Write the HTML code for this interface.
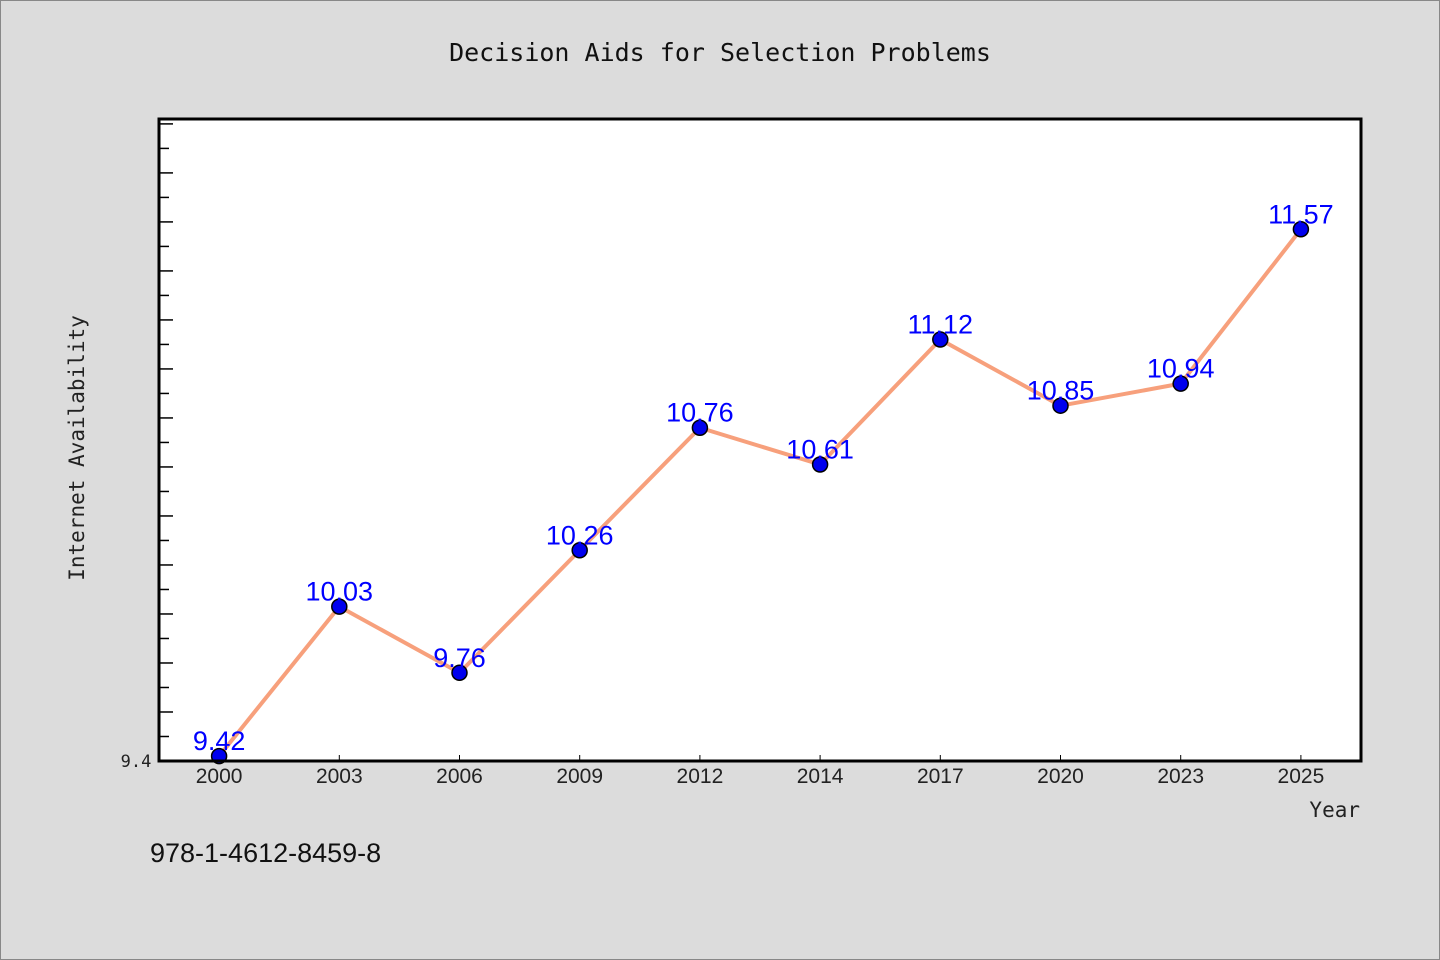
<!DOCTYPE html>
<html><head><meta charset="utf-8"><style>
html,body{margin:0;padding:0;background:#dcdcdc;}
svg{display:block;}
</style></head><body>
<svg width="1440" height="960" xmlns="http://www.w3.org/2000/svg">
<rect x="0.5" y="0.5" width="1439" height="959" fill="#dcdcdc" stroke="#888"/>
<text x="720" y="61" text-anchor="middle" font-family="'DejaVu Sans Mono','WenQuanYi Zen Hei',monospace" font-size="25" fill="#111">Decision Aids for Selection Problems</text>
<rect x="159" y="119" width="1202" height="642" fill="#fff"/>
<g id="ticks"></g>
<path id="line" fill="none" stroke="#f7a07c" stroke-width="4" stroke-linejoin="round"/>
<g id="pts"></g>
<rect x="159" y="119" width="1202" height="642" fill="none" stroke="#000" stroke-width="3"/>
<text x="136" y="767" text-anchor="middle" font-family="'DejaVu Sans Mono',monospace" font-size="17" fill="#222">9.4</text>
<text x="84" y="448" transform="rotate(-90 84 448)" text-anchor="middle" font-family="'DejaVu Sans Mono',monospace" font-size="21" fill="#222">Internet Availability</text>
<text x="1360" y="817" text-anchor="end" font-family="'DejaVu Sans Mono',monospace" font-size="21" fill="#222">Year</text>
<text x="150" y="862" font-family="'WenQuanYi Zen Hei','Liberation Sans',sans-serif" font-size="27" fill="#111">978-1-4612-8459-8</text>
</svg>
<script>
const categories=["2000","2003","2006","2009","2012","2014","2017","2020","2023","2025"];
const values=[9.42,10.03,9.76,10.26,10.76,10.61,11.12,10.85,10.94,11.57];
const valueLabels=["9.42","10.03","9.76","10.26","10.76","10.61","11.12","10.85","10.94","11.57"];
const yMin=9.4, yMax=12.02;
const L=159,R=1361,T=119,B=761;
const NS="http://www.w3.org/2000/svg";
const bw=(R-L)/categories.length;
const xs=i=>L+bw*(i+0.5);
const ys=v=>B-(v-yMin)/(yMax-yMin)*(B-T);
const tg=document.getElementById('ticks');
for(let k=1;;k++){const v=yMin+k*0.1;if(v>yMax-0.01)break;const y=ys(v);
const l=document.createElementNS(NS,'line');


l.setAttribute('x1',L);l.setAttribute('x2',L+(k%2==0?14:10));l.setAttribute('y1',y);l.setAttribute('y2',y);l.setAttribute('stroke','#000');l.setAttribute('stroke-width','1.5');tg.appendChild(l);}
categories.forEach((c,i)=>{
const l=document.createElementNS(NS,'line');


l.setAttribute('x1',xs(i));l.setAttribute('x2',xs(i));l.setAttribute('y1',B);l.setAttribute('y2',B-6);l.setAttribute('stroke','#000');tg.appendChild(l);
const t=document.createElementNS(NS,'text');


t.setAttribute('x',xs(i));t.setAttribute('y',783);t.setAttribute('text-anchor','middle');t.setAttribute('font-family',"'WenQuanYi Zen Hei','Liberation Sans',sans-serif");t.setAttribute('font-size','21');t.setAttribute('fill','#222');t.textContent=c;tg.appendChild(t);});
document.getElementById('line').setAttribute('d',values.map((v,i)=>(i?'L':'M')+xs(i)+' '+ys(v)).join(' '));
const pg=document.getElementById('pts');
values.forEach((v,i)=>{
const c=document.createElementNS(NS,'circle');


c.setAttribute('cx',xs(i));c.setAttribute('cy',ys(v));c.setAttribute('r','7.5');c.setAttribute('fill','#0000ee');c.setAttribute('stroke','#000');c.setAttribute('stroke-width','1.5');pg.appendChild(c);
const t=document.createElementNS(NS,'text');


t.setAttribute('x',xs(i));t.setAttribute('y',ys(v)-6);t.setAttribute('text-anchor','middle');t.setAttribute('font-family',"'WenQuanYi Zen Hei','Liberation Sans',sans-serif");t.setAttribute('font-size','27');t.setAttribute('fill','#0000ff');t.textContent=valueLabels[i];pg.appendChild(t);});
</script>
</body></html>
